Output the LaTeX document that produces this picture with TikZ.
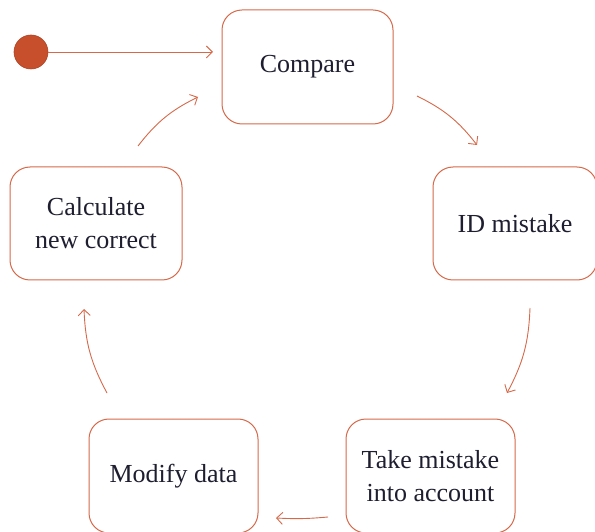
\documentclass[tikz,border=0pt]{standalone}
\usepackage{fontspec}
\setmainfont{Liberation Serif}
\usetikzlibrary{arrows.meta}
\definecolor{edge}{HTML}{D5694A}
\definecolor{dot}{HTML}{C84F2C}
\definecolor{ink}{HTML}{1E1E30}
\tikzset{
  state/.style={draw=edge, line width=1pt, rounded corners=20pt, fill=white,
    minimum width=171pt, minimum height=114pt, align=center, text=ink,
    font=\fontsize{26}{33}\selectfont, inner sep=0pt},
  flow/.style={draw=edge, line width=0.9pt, -{Straight Barb[length=6pt,width=12pt]}}
}
\begin{document}
\begin{tikzpicture}[x=1pt,y=1pt]
\useasboundingbox (0,0) rectangle (595,531);
\clip (0,0) rectangle (595,531);
\node[state] (cmp) at (307.5,464) {Compare};
\node[state, minimum width=164pt, minimum height=113pt] (id) at (515,307.5) {ID mistake};
\node[state, minimum width=172pt, minimum height=113pt] (calc) at (96,307.5) {Calculate\\new correct};
\node[state, minimum width=169pt] (mod) at (173.5,55) {Modify data};
\node[state, minimum width=169pt] (take) at (430.5,55) {Take mistake\\into account};
\node[circle, fill=dot, draw=dot!85!black, line width=0.6pt, minimum size=34pt, inner sep=0pt] (start) at (31,479) {};
\coordinate (s0) at (213,479);
\coordinate (a1s) at (138,385); \coordinate (a1e) at (198,434);
\coordinate (a2s) at (417,435); \coordinate (a2e) at (477,386);
\coordinate (a3s) at (530,223); \coordinate (a3e) at (507,138);
\coordinate (a4s) at (328,14);  \coordinate (a4e) at (276,13);
\coordinate (a5s) at (107,138); \coordinate (a5e) at (84,222);
\draw[flow] (start) -- (s0);
\draw[flow] (a1s) to[bend left=13] (a1e);
\draw[flow] (a2s) to[bend left=13] (a2e);
\draw[flow] (a3s) to[bend left=13] (a3e);
\draw[flow] (a4s) to[bend left=4] (a4e);
\draw[flow] (a5s) to[bend left=13] (a5e);
\end{tikzpicture}
\end{document}
